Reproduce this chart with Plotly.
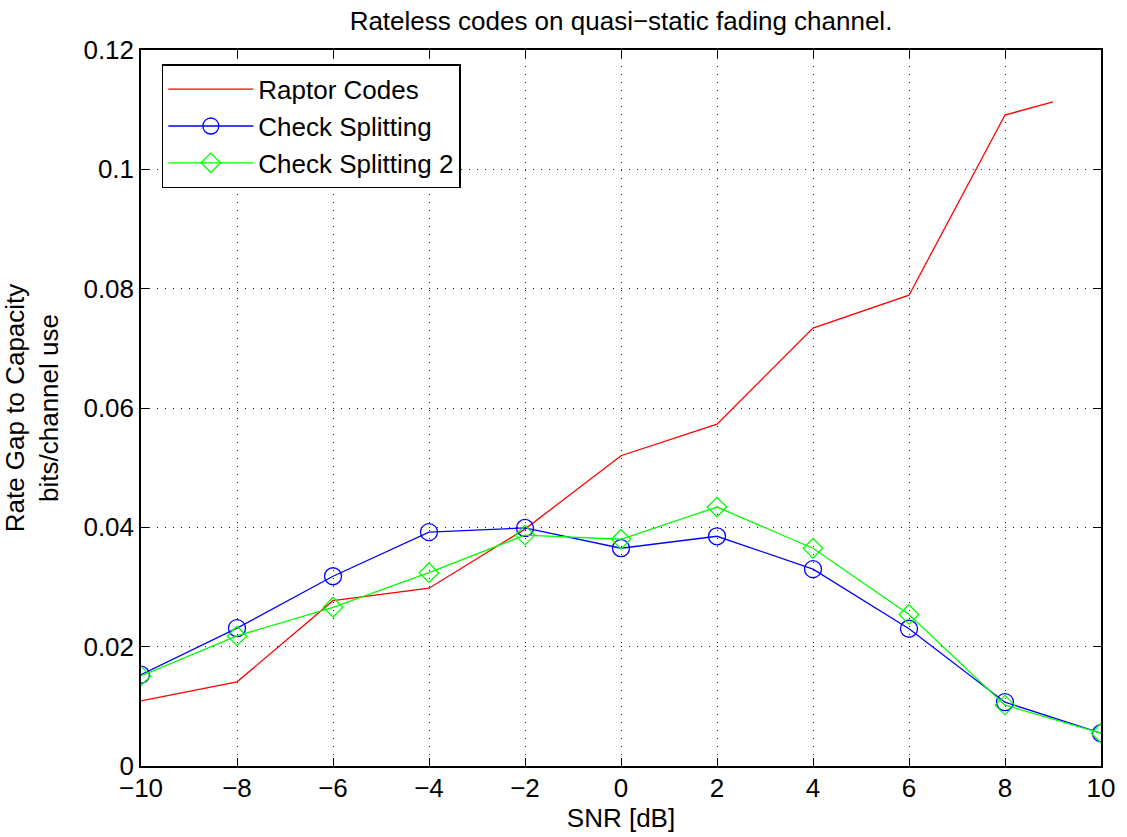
import plotly.graph_objects as go

snr = [-10, -8, -6, -4, -2, 0, 2, 4, 6, 8, 10]
snr_raptor = [-10, -8, -6, -4, -2, 0, 2, 4, 6, 8, 9]
raptor = [0.0109, 0.0141, 0.0277, 0.0298, 0.0397, 0.0520, 0.0573, 0.0734, 0.0789, 0.1091, 0.1113]
check_split = [0.0153, 0.0231, 0.0318, 0.0392, 0.0399, 0.0365, 0.0385, 0.0330, 0.0230, 0.0107, 0.0055]
check_split2 = [0.0151, 0.0218, 0.0266, 0.0324, 0.0387, 0.0380, 0.0434, 0.0365, 0.0254, 0.0102, 0.0055]

x_ticks = [-10, -8, -6, -4, -2, 0, 2, 4, 6, 8, 10]
y_ticks = [0, 0.02, 0.04, 0.06, 0.08, 0.1, 0.12]

fig = go.Figure()
fig.add_trace(go.Scatter(x=snr_raptor, y=raptor, mode="lines", name="Raptor Codes",
                         line=dict(color="#ff0000", width=1.3)))
fig.add_trace(go.Scatter(x=snr, y=check_split, mode="lines+markers", name="Check Splitting",
                         line=dict(color="#0000ff", width=1.3),
                         marker=dict(symbol="circle-open", size=17, color="#0000ff", line=dict(width=1.3))))
fig.add_trace(go.Scatter(x=snr, y=check_split2, mode="lines+markers", name="Check Splitting 2",
                         line=dict(color="#00ff00", width=1.3),
                         marker=dict(symbol="diamond-open", size=15, color="#00ff00", line=dict(width=1.3))))

font = "Liberation Sans, Arial, Helvetica, sans-serif"
axis_common = dict(
    showline=True, linecolor="black", linewidth=1.5, mirror="ticks",
    ticks="inside", ticklen=8, tickcolor="black", tickwidth=1,
    showgrid=True, gridcolor="#222222", griddash="1px,7px", gridwidth=1,
    zeroline=False, tickfont=dict(size=26, color="black", family=font),
)
fig.update_xaxes(range=[-10, 10], tickvals=x_ticks, ticklabelstandoff=-2,
                 title=dict(text="SNR [dB]", font=dict(size=26, color="black", family=font), standoff=2),
                 **axis_common)
fig.update_yaxes(range=[0, 0.12], tickvals=y_ticks,
                 title=dict(text="Rate Gap to Capacity<br>bits/channel use", font=dict(size=26, color="black", family=font), standoff=18),
                 **axis_common)

fig.update_layout(
    width=1127, height=837,
    margin=dict(l=141, r=18, t=50, b=71),
    plot_bgcolor="white", paper_bgcolor="white",
    title=dict(text="Rateless codes on quasi\u2212static fading channel.", xref="paper", x=0.5, xanchor="center",
               yref="container", y=0.975, yanchor="middle", font=dict(size=26, color="black", family=font)),
    legend=dict(x=0.0217, y=0.98, xanchor="left", yanchor="top", bgcolor="white",
                bordercolor="black", borderwidth=1.5, font=dict(size=26, color="black", family=font),
                itemwidth=85, tracegroupgap=0),
    showlegend=True,
)

fig.write_html("out.html", config={"displayModeBar": False},
               post_script="document.body.style.margin='0';document.body.style.overflow='hidden';")
